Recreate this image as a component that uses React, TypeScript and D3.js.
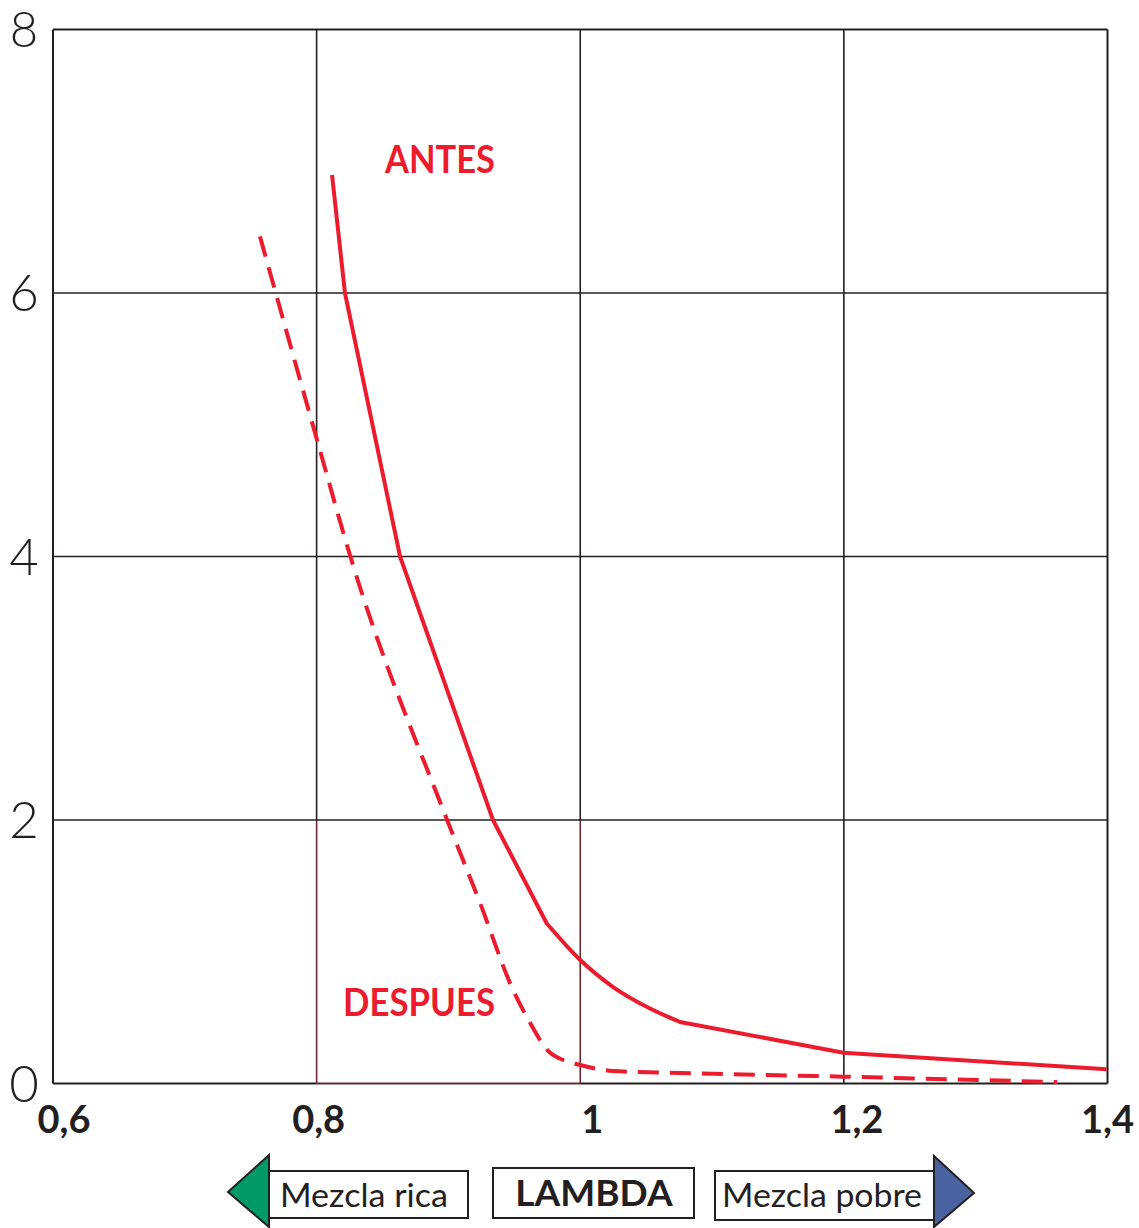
import React from "react";
import * as d3 from "d3";

const xTicks = [0.6, 0.8, 1.0, 1.2, 1.4];
const xTickLabels = ["0,6", "0,8", "1", "1,2", "1,4"];
const yTicks = [0, 2, 4, 6, 8];
const yTickLabels = ["0", "2", "4", "6", "8"];

const antesX = [0.8117, 0.8215, 0.8633, 0.9338, 0.9745, 1.0, 1.025, 1.0507, 1.0757, 1.1996, 1.3994];
const antesY = [6.896, 6.0, 4.0, 2.0, 1.216, 0.937, 0.732, 0.58, 0.467, 0.234, 0.108];

const despuesX = [0.757, 0.8003, 0.8253, 0.899, 0.924, 0.949, 0.962, 0.975, 0.987, 1.0, 1.025, 1.0757, 1.1994, 1.3617];
const despuesY = [6.43, 4.885, 4.01, 2.0, 1.37, 0.71, 0.46, 0.254, 0.178, 0.14, 0.095, 0.08, 0.052, 0.011];

const seriesLabels = ["ANTES", "DESPUES"];
const axisTitle = "LAMBDA";
const leftLegend = "Mezcla rica";
const rightLegend = "Mezcla pobre";

const W = 1139;
const H = 1228;
const RED = "#ec1c2e";
const INK = "#231f20";
const BROWN = "#6a2a30";
const FONT = "Lato, 'DejaVu Sans', sans-serif";

export default function App() {
  const x = d3.scaleLinear().domain([0.6, 1.4]).range([53, 1107.5]);
  const y = d3.scaleLinear().domain([0, 8]).range([1083.5, 29.5]);

  const antes = antesX.map((v, i) => [v, antesY[i]] as [number, number]);
  const despues = despuesX.map((v, i) => [v, despuesY[i]] as [number, number]);

  const lineLin = d3.line<[number, number]>().x((d) => x(d[0])).y((d) => y(d[1])).curve(d3.curveLinear);
  const lineMono = d3.line<[number, number]>().x((d) => x(d[0])).y((d) => y(d[1])).curve(d3.curveMonotoneX);

  const headD = lineLin(antes.slice(0, 5)) || "";
  const midD = lineMono(antes.slice(4, 9)) || "";
  const tailD = lineLin(antes.slice(8)) || "";
  const antesD = headD + "L" + midD.slice(1) + "L" + tailD.slice(1);

  const xLabelDx = [11, 2, 12, 13, 0];

  return (
    <svg width={W} height={H} viewBox={`0 0 ${W} ${H}`} style={{ position: "absolute", left: 0, top: 0, background: "#fff" }}>
      {/* grid */}
      {xTicks.slice(1, -1).map((t) => (
        <line key={"gx" + t} x1={x(t)} x2={x(t)} y1={y(8)} y2={y(2)} stroke={INK} strokeWidth={1.6} />
      ))}
      {xTicks.slice(1, -1).map((t) => (
        <line key={"gxb" + t} x1={x(t)} x2={x(t)} y1={y(2)} y2={y(0)} stroke={t < 1.1 ? BROWN : INK} strokeWidth={1.6} />
      ))}
      {yTicks.slice(1, -1).map((t) => (
        <line key={"gy" + t} x1={x(0.6)} x2={x(1.4)} y1={y(t)} y2={y(t)} stroke={INK} strokeWidth={1.6} />
      ))}
      {/* frame */}
      <line x1={x(0.6)} x2={x(1.4)} y1={y(8)} y2={y(8)} stroke={INK} strokeWidth={2} />
      <line x1={x(0.6)} x2={x(0.6)} y1={y(8)} y2={y(0)} stroke={INK} strokeWidth={2} />
      <line x1={x(1.4)} x2={x(1.4)} y1={y(8)} y2={y(0)} stroke={INK} strokeWidth={2} />
      <line x1={x(0.6)} x2={x(0.8)} y1={y(0)} y2={y(0)} stroke={INK} strokeWidth={2} />
      <line x1={x(0.8)} x2={x(1.0)} y1={y(0)} y2={y(0)} stroke={BROWN} strokeWidth={2} />
      <line x1={x(1.0)} x2={x(1.4)} y1={y(0)} y2={y(0)} stroke={INK} strokeWidth={2} />

      {/* series */}
      <path d={antesD} fill="none" stroke={RED} strokeWidth={4} strokeLinejoin="round" />
      <path d={lineMono(despues) || ""} fill="none" stroke={RED} strokeWidth={4} strokeDasharray="21 11" />

      <text x={385} y={173} fill={RED} fontFamily={FONT} fontWeight={700} fontSize={39} textLength={110} lengthAdjust="spacingAndGlyphs">{seriesLabels[0]}</text>
      <text x={343} y={1016} fill={RED} fontFamily={FONT} fontWeight={700} fontSize={39} textLength={152} lengthAdjust="spacingAndGlyphs">{seriesLabels[1]}</text>

      {/* y tick labels */}
      {yTicks.map((t, i) => (
        <text key={"yl" + t} x={24} y={y(t)} dy="0.36em" textAnchor="middle" fill={INK} fontFamily={FONT} fontWeight={300} fontSize={t === 8 ? 49 : 51}>
          {yTickLabels[i]}
        </text>
      ))}
      {/* x tick labels */}
      {xTicks.map((t, i) => (
        <text key={"xl" + t} x={x(t) + xLabelDx[i]} y={1133} textAnchor="middle" fill={INK} fontFamily={FONT} fontWeight={700} fontSize={38}>
          {xTickLabels[i]}
        </text>
      ))}

      {/* legend */}
      <polygon points="228,1192 269,1155 269,1227" fill="#009a66" stroke={INK} strokeWidth={2} strokeLinejoin="miter" />
      <rect x={269} y={1171} width={199} height={47} fill="#fff" stroke={INK} strokeWidth={2} />
      <text x={280} y={1207} fill={INK} fontFamily={FONT} fontWeight={400} fontSize={32} textLength={168} lengthAdjust="spacingAndGlyphs">{leftLegend}</text>

      <rect x={493} y={1168} width={201} height={50} fill="#fff" stroke={INK} strokeWidth={2} />
      <text x={594} y={1206} textAnchor="middle" fill={INK} fontFamily={FONT} fontWeight={700} fontSize={37}>{axisTitle}</text>

      <rect x={715} y={1171} width={219} height={49} fill="#fff" stroke={INK} strokeWidth={2} />
      <text x={722} y={1207} fill={INK} fontFamily={FONT} fontWeight={400} fontSize={32} textLength={200} lengthAdjust="spacingAndGlyphs">{rightLegend}</text>
      <polygon points="934,1156 974,1193 934,1227" fill="#4a63a0" stroke={INK} strokeWidth={2} strokeLinejoin="miter" />
    </svg>
  );
}
